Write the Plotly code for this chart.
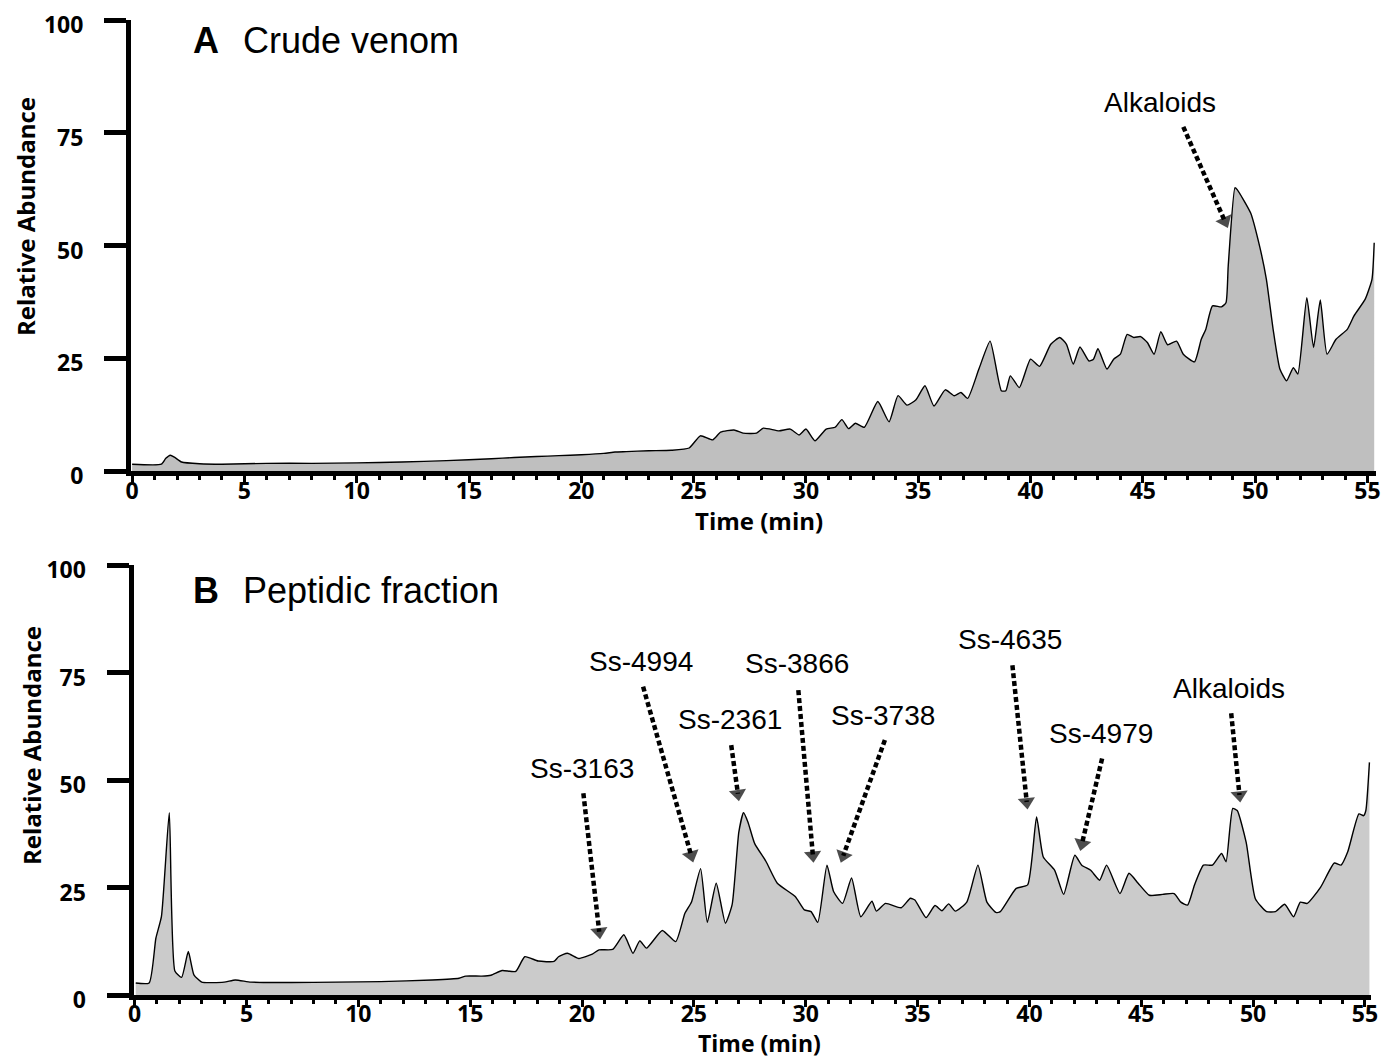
import plotly.graph_objects as go

W, H = 1381, 1058

# ---------------- Panel A: crude venom ----------------
time_a = [0, 1.3, 1.5, 1.7, 1.9, 2.2, 3, 4, 6, 8, 10, 12, 14, 16, 17, 18, 19, 20, 21, 21.5,
          22, 23, 24, 24.8, 25.3, 25.85, 26.2, 26.8, 27.2, 27.8, 28.1, 28.8, 29.3, 29.7, 30.0,
          30.4, 30.9, 31.3, 31.6, 31.9, 32.2, 32.6, 33.2, 33.7, 34.1, 34.5, 34.9, 35.3, 35.7,
          36.2, 36.6, 36.9, 37.2, 37.7, 38.2, 38.7, 38.9, 39.1, 39.5, 40.0, 40.4, 40.9, 41.3,
          41.6, 41.9, 42.2, 42.6, 42.8, 43.0, 43.4, 43.7, 44.0, 44.3, 44.6, 44.9, 45.2, 45.5,
          45.8, 46.1, 46.5, 46.8, 47.3, 47.6, 47.8, 48.1, 48.5, 48.7, 48.8, 49.1, 49.2, 49.8,
          50.2, 50.5, 50.8, 51.1, 51.4, 51.7, 51.9, 52.3, 52.6, 52.9, 53.2, 53.6, 54.1, 54.4,
          54.9, 55.2, 55.3]
abund_a = [1.5, 1.5, 2.8, 3.5, 3.0, 2.0, 1.6, 1.5, 1.7, 1.7, 1.8, 2.0, 2.3, 2.7, 3.0, 3.2, 3.4,
           3.6, 3.9, 4.2, 4.3, 4.5, 4.6, 5.1, 7.8, 6.9, 8.6, 9.1, 8.4, 8.4, 9.5, 8.9, 9.3, 8.0,
           9.3, 6.7, 9.3, 9.7, 11.4, 9.4, 10.6, 9.7, 15.4, 10.9, 16.7, 14.6, 15.8, 18.9, 14.4,
           18.0, 16.7, 17.4, 16.1, 22.6, 28.8, 17.8, 17.8, 21.1, 18.5, 24.8, 23.2, 28.1, 29.6,
           28.1, 23.7, 27.5, 24.4, 24.8, 27.1, 22.6, 24.8, 25.9, 30.3, 29.6, 29.8, 28.5, 25.9,
           30.9, 28.0, 28.8, 25.9, 24.2, 29.2, 31.4, 36.6, 36.4, 37.3, 45.4, 62.8, 62.4, 57.2,
           49.8, 42.5, 31.4, 22.6, 20.0, 22.9, 21.5, 38.4, 27.4, 37.9, 25.9, 29.2, 31.4, 34.4,
           38.1, 42.5, 50.6]

# ---------------- Panel B: peptidic fraction ----------------
time_b = [0.05, 0.65, 0.95, 1.2, 1.55, 1.8, 2.1, 2.4, 2.65, 3.0, 4.0, 4.5, 5.2, 7, 9, 11, 13.3,
          14.5, 14.8, 15.52, 15.93, 16.43, 17.04, 17.44, 18.04, 18.75, 18.95, 19.35, 19.86,
          20.46, 20.76, 21.37, 21.87, 22.28, 22.58, 22.88, 23.59, 24.19, 24.6, 24.9, 25.3,
          25.6, 26.0, 26.41, 26.71, 27.01, 27.22, 27.42, 27.72, 28.22, 28.73, 29.53, 29.94,
          30.24, 30.54, 30.95, 31.25, 31.65, 32.05, 32.46, 32.96, 33.16, 33.57, 34.27, 34.68,
          34.88, 35.38, 35.78, 36.09, 36.39, 36.69, 37.2, 37.7, 38.1, 38.5, 38.7, 39.41, 39.92,
          40.32, 40.62, 41.13, 41.53, 42.03, 42.34, 42.74, 43.14, 43.45, 44.05, 44.45, 44.86,
          45.36, 45.96, 46.47, 46.77, 47.07, 47.38, 47.78, 48.18, 48.59, 48.79, 49.09, 49.29,
          49.69, 50.1, 50.6, 51.0, 51.41, 51.81, 52.11, 52.42, 53.02, 53.63, 53.93, 54.23,
          54.73, 54.94, 55.04, 55.2]
abund_b = [2.8, 2.8, 13.2, 18.3, 42.4, 5.6, 4.1, 10.1, 4.7, 3.0, 3.0, 3.5, 3.0, 2.9, 3.0, 3.1,
           3.5, 3.9, 4.4, 4.4, 4.6, 5.7, 5.5, 8.9, 7.9, 7.8, 8.9, 9.7, 8.5, 9.5, 10.5, 10.6,
           14.0, 9.7, 12.6, 10.9, 15.0, 12.4, 19.0, 21.7, 29.4, 16.9, 26.0, 16.7, 21.0, 37.9,
           42.4, 40.2, 35.2, 31.1, 26.0, 22.9, 19.8, 19.4, 16.9, 30.2, 24.0, 21.3, 27.2, 18.2,
           21.8, 19.5, 21.3, 20.3, 22.5, 22.1, 18.0, 20.8, 19.6, 21.2, 19.5, 21.6, 30.2, 21.6,
           19.2, 19.4, 24.8, 25.6, 41.4, 32.1, 29.0, 23.4, 32.5, 30.2, 29.0, 26.7, 30.2, 23.6,
           28.3, 26.0, 23.2, 23.4, 23.6, 21.6, 20.9, 25.6, 30.2, 30.2, 32.9, 31.0, 43.4, 42.9,
           35.5, 22.4, 19.4, 19.4, 21.1, 18.2, 21.6, 21.3, 25.1, 30.7, 30.2, 33.3, 42.1, 41.7,
           42.9, 54.1]

# ---------------- Labels / arrows ----------------
x_ticks = list(range(0, 60, 5))
y_ticks = [0, 25, 50, 75, 100]

labels_a = ["Alkaloids"]
label_xy_a = [(45.75, 81.7)]
arrow_a = [((46.8, 76.3), (48.65, 55.4))]

labels_b = ["Ss-3163", "Ss-4994", "Ss-2361", "Ss-3866", "Ss-3738", "Ss-4635", "Ss-4979", "Alkaloids"]
label_xy_b = [(20.02, 52.6), (22.64, 77.5), (26.6, 64.0), (29.6, 77.2), (33.47, 65.1),
              (39.12, 82.6), (43.2, 60.9), (48.9, 71.3)]
arrow_b = [((20.06, 46.9), (20.77, 14.7)), ((22.73, 71.7), (24.88, 32.5)),
           ((26.67, 58.1), (26.97, 46.8)), ((29.67, 70.9), (30.32, 32.5)),
           ((33.54, 59.3), (31.68, 32.4)), ((39.24, 76.7), (39.88, 44.9)),
           ((43.25, 55.0), (42.35, 35.2)), ((49.02, 65.5), (49.39, 46.5))]

panel_letters = ["A", "B"]
panel_titles = ["Crude venom", "Peptidic fraction"]

TITLEFONT = dict(family="Open Sans", size=24, color="black")
LABELFONT = dict(family="Liberation Sans", size=28, color="black")


def xd(px):
    return px / W


def yd(py):
    return 1 - py / H


fig = go.Figure()

# plot areas in pixels: (left, right, top, bottom), x range
panels = [
    dict(l=131, r=1376, t=20, b=471, xr=[-0.05, 55.38], xa="x", ya="y",
         fill="#bfbfbf", t_=time_a, v_=abund_a),
    dict(l=133.5, r=1371, t=565, b=995, xr=[-0.05, 55.27], xa="x2", ya="y2",
         fill="#cbcbcb", t_=time_b, v_=abund_b),
]

for p in panels:
    fig.add_trace(go.Scatter(x=p["t_"], y=p["v_"], mode="lines", fill="tozeroy",
                             fillcolor=p["fill"], line=dict(color="black", width=1.4, shape="spline", smoothing=0.5),
                             xaxis=p["xa"], yaxis=p["ya"], showlegend=False, hoverinfo="skip"))


def add_arrows(arrows, xa, ya):
    for (x0, y0), (x1, y1) in arrows:
        fig.add_trace(go.Scatter(x=[x0, x1], y=[y0, y1], mode="lines+markers",
                                 line=dict(color="black", width=4.5, dash="5px,3px"),
                                 marker=dict(symbol=["circle", "triangle-up"], size=[0, 15],
                                             color="black", angleref="previous",
                                             line=dict(width=0)),
                                 xaxis=xa, yaxis=ya, showlegend=False, hoverinfo="skip"))


add_arrows(arrow_a, "x", "y")
add_arrows(arrow_b, "x2", "y2")

annotations = []
for txt, (x, y) in zip(labels_a, label_xy_a):
    annotations.append(dict(x=x, y=y, xref="x", yref="y", text=txt, showarrow=False,
                            font=LABELFONT, xanchor="center", yanchor="middle"))
for txt, (x, y) in zip(labels_b, label_xy_b):
    annotations.append(dict(x=x, y=y, xref="x2", yref="y2", text=txt, showarrow=False,
                            font=LABELFONT, xanchor="center", yanchor="middle"))

# panel titles and axis titles
for i, p in enumerate(panels):
    ty = [40, 590][i]
    annotations.append(dict(x=xd(206), y=yd(ty), xref="paper", yref="paper",
                            text="<b>%s</b>" % panel_letters[i], showarrow=False,
                            font=dict(family="Liberation Sans", size=36, color="black"),
                            xanchor="center", yanchor="middle"))
    annotations.append(dict(x=xd(241), y=yd(ty), xref="paper", yref="paper",
                            text=panel_titles[i], showarrow=False,
                            font=dict(family="Liberation Sans", size=36, color="black"),
                            xanchor="left", yanchor="middle"))
    annotations.append(dict(x=xd([26, 31][i]), y=yd([217, 746][i]), xref="paper", yref="paper",
                            text="<b>Relative Abundance</b>", showarrow=False, textangle=-90,
                            font=TITLEFONT, xanchor="center", yanchor="middle"))
    annotations.append(dict(x=xd(759), y=yd([521, 1043][i]), xref="paper", yref="paper",
                            text="<b>Time (min)</b>", showarrow=False,
                            font=dict(TITLEFONT, size=[24, 23][i]), xanchor="center", yanchor="middle"))

xaxis_common = dict(showline=True, linewidth=5, linecolor="black", mirror=False,
                    showgrid=False, zeroline=False, ticks="outside", ticklen=7, tickwidth=3,
                    tickcolor="black", tickvals=x_ticks, ticktext=[str(v) for v in x_ticks],
                    tickfont=dict(family="Open Sans", size=23, color="black", weight="bold"),
                    minor=dict(dtick=1, ticks="outside", ticklen=4, tickwidth=2.5, tickcolor="black"),
                    ticklabelstandoff=-12, automargin=False, fixedrange=True)
yaxis_common = dict(showline=True, linewidth=5, linecolor="black", showgrid=False, zeroline=False,
                    ticks="outside", ticklen=22, tickwidth=5, tickcolor="black",
                    tickvals=y_ticks, ticktext=[str(v) for v in y_ticks], range=[0, 100],
                    tickfont=dict(family="Open Sans", size=23, color="black", weight="bold"),
                    ticklabelstandoff=16, ticklabelshift=5, automargin=False, fixedrange=True)

fig.update_layout(
    width=W, height=H, margin=dict(l=0, r=0, t=0, b=0, autoexpand=False),
    paper_bgcolor="white", plot_bgcolor="white",
    xaxis=dict(xaxis_common, domain=[xd(panels[0]["l"]), xd(panels[0]["r"])], range=panels[0]["xr"], anchor="y"),
    yaxis=dict(yaxis_common, domain=[yd(panels[0]["b"]), yd(panels[0]["t"])], anchor="x"),
    xaxis2=dict(xaxis_common, domain=[xd(panels[1]["l"]), xd(panels[1]["r"])], range=panels[1]["xr"],
                anchor="y2", ticklabelstandoff=-13),
    yaxis2=dict(yaxis_common, domain=[yd(panels[1]["b"]), yd(panels[1]["t"])], anchor="x2"),
    annotations=annotations,
    showlegend=False,
)

fig.write_html("out.html", config={"displayModeBar": False},
               post_script="document.body.style.margin='0px';document.body.style.overflow='hidden';")
